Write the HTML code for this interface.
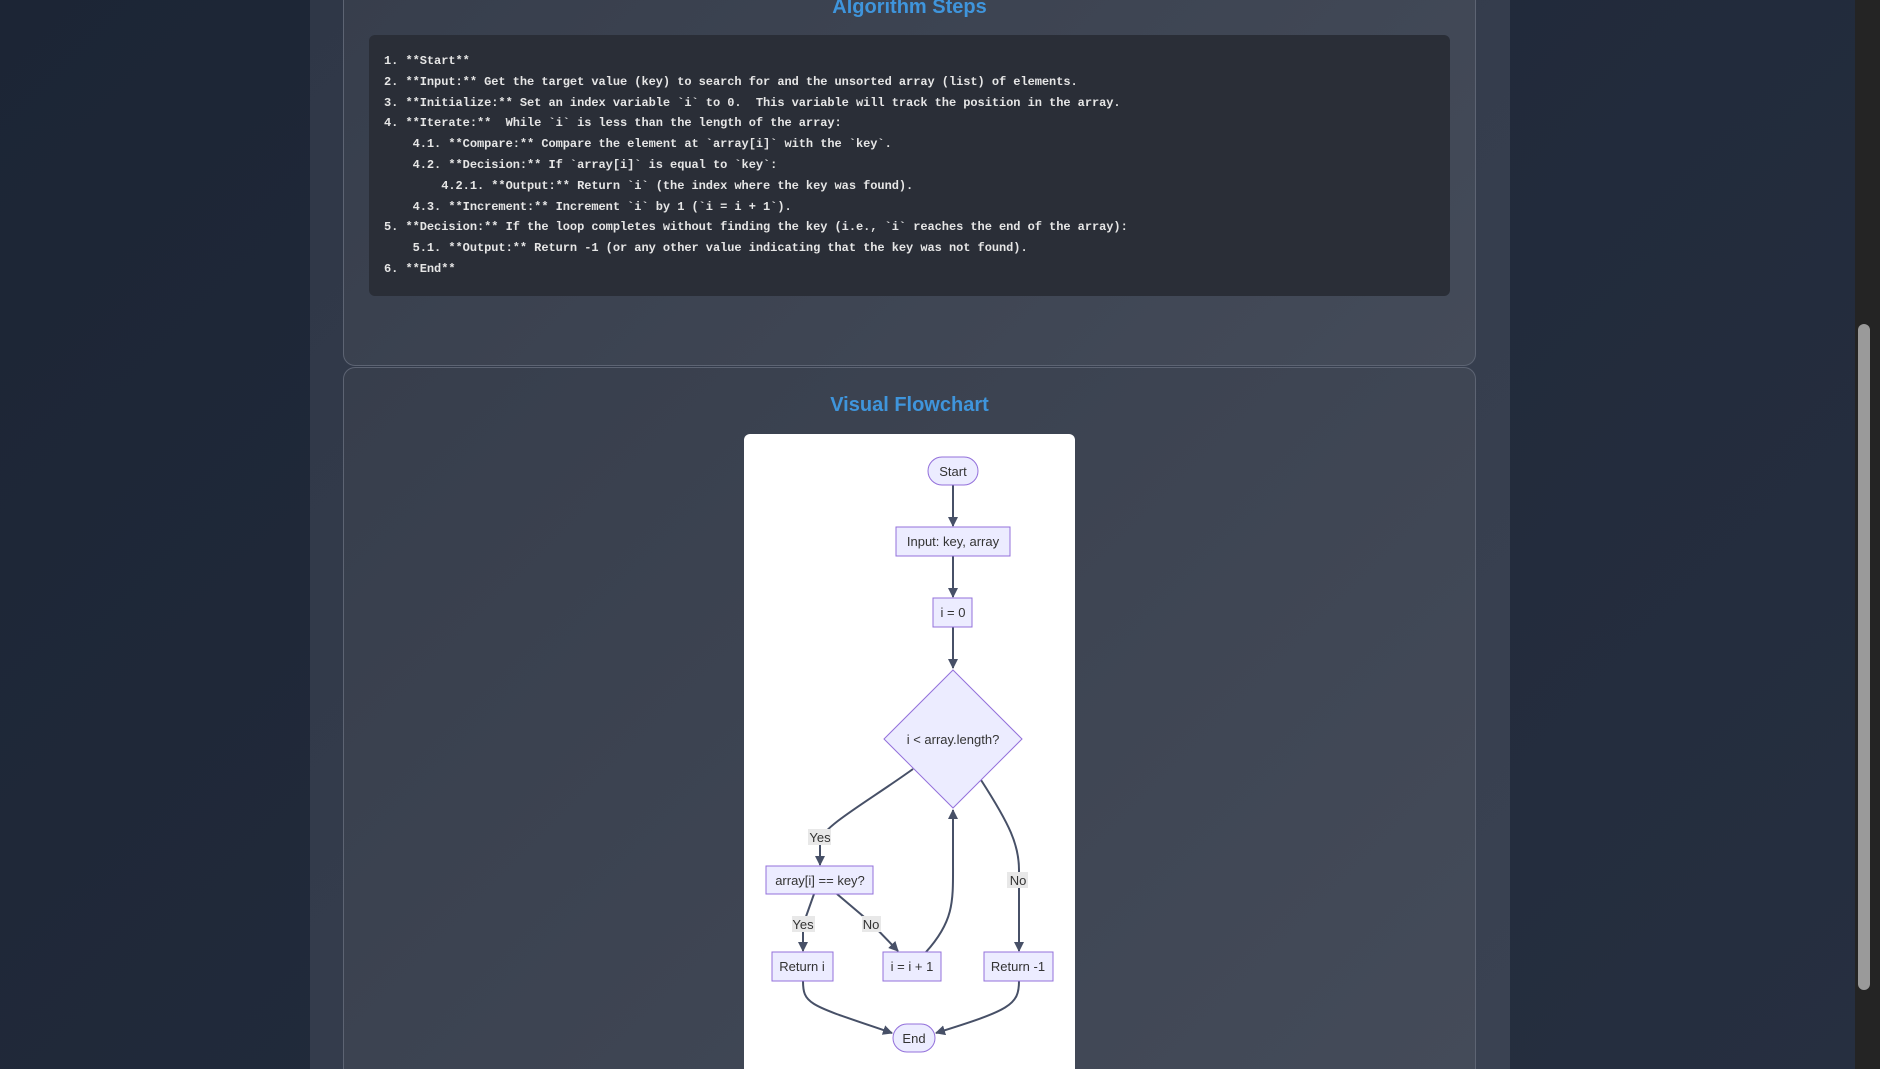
<!DOCTYPE html>
<html><head><meta charset="utf-8"><style>
html,body{margin:0;padding:0;width:1880px;height:1069px;overflow:hidden;background:linear-gradient(135deg,#1c2535,#262f40);font-family:"Liberation Sans",sans-serif;position:relative;}
.panel{position:absolute;left:310px;top:0;width:1200px;height:1069px;background:linear-gradient(135deg,#2f3747,#3a4252);}
.card{position:absolute;left:343px;width:1133px;background:linear-gradient(135deg,#373e4c,#444b59);border:1px solid #5d6473;border-radius:12px;box-sizing:border-box;}
h2{position:absolute;left:343px;width:1133px;margin:0;text-align:center;color:#3f95dc;font-size:20px;font-weight:bold;}
.code{position:absolute;left:369px;top:35px;width:1081px;height:261px;background:#2a2e37;border-radius:6px;}
pre{margin:0;position:absolute;left:384px;top:51px;font-family:"Liberation Mono",monospace;font-size:12px;font-weight:bold;line-height:20.8px;color:#e6e6e6;letter-spacing:-0.05px;}
.sb{position:absolute;left:1855px;top:0;width:25px;height:1069px;background:#242424;}
.thumb{position:absolute;left:1858px;top:324px;width:12px;height:666px;background:#9a9a9a;border-radius:6px;}
.white{position:absolute;left:744px;top:434px;width:331px;height:635px;background:#fff;border-radius:6px 6px 0 0;}
</style></head><body>
<div class="panel"></div>
<div class="card" style="top:-20px;height:386px;"></div>
<div class="card" style="top:367px;height:702px;border-bottom:none;border-radius:12px 12px 0 0;"></div>
<h2 style="top:-4px;">Algorithm Steps</h2>
<div class="code"></div>
<pre>1. **Start**
2. **Input:** Get the target value (key) to search for and the unsorted array (list) of elements.
3. **Initialize:** Set an index variable `i` to 0.  This variable will track the position in the array.
4. **Iterate:**  While `i` is less than the length of the array:
    4.1. **Compare:** Compare the element at `array[i]` with the `key`.
    4.2. **Decision:** If `array[i]` is equal to `key`:
        4.2.1. **Output:** Return `i` (the index where the key was found).
    4.3. **Increment:** Increment `i` by 1 (`i = i + 1`).
5. **Decision:** If the loop completes without finding the key (i.e., `i` reaches the end of the array):
    5.1. **Output:** Return -1 (or any other value indicating that the key was not found).
6. **End**</pre>
<h2 style="top:394px;">Visual Flowchart</h2>
<div class="white"></div>
<svg style="position:absolute;left:0;top:0" width="1880" height="1069" font-family="Liberation Sans, sans-serif" font-size="13" fill="#333">
<defs><marker id="a" markerWidth="10" markerHeight="10" refX="9" refY="5" orient="auto" markerUnits="userSpaceOnUse"><path d="M0,0 L10,5 L0,10 z" fill="#475067"/></marker></defs>
<g stroke="#475067" stroke-width="2" fill="none" marker-end="url(#a)">
<path d="M953,485 L953,526"/>
<path d="M953,556 L953,597"/>
<path d="M953,627 L953,668"/>
<path d="M913,769 C870,800 825,825 820,840 L820,865"/>
<path d="M814,894 L803,925 L803,951"/>
<path d="M837,894 L870,922 L898,951"/>
<path d="M926,952 C955,920 953,900 953,860 L953,810"/>
<path d="M981,780 C1010,825 1019,845 1019,870 L1019,951"/>
<path d="M803,981 C803,1005 810,1005 892,1033"/>
<path d="M1019,981 C1019,1005 1010,1010 936,1033"/>
</g>
<g fill="#ececff" stroke="#9370db" stroke-width="1">
<rect x="928" y="457" width="50" height="28" rx="14"/>
<rect x="896" y="527" width="114" height="29"/>
<rect x="933" y="598" width="39" height="29"/>
<polygon points="953,670 1022,739 953,808 884,739"/>
<rect x="766" y="866" width="107" height="28"/>
<rect x="772" y="952" width="61" height="29"/>
<rect x="883" y="952" width="58" height="29"/>
<rect x="984" y="952" width="69" height="29"/>
<rect x="893" y="1024" width="42" height="28" rx="14"/>
</g>
<g fill="#e8e8e8"><rect x="808" y="829" width="23" height="16"/><rect x="1007" y="872" width="21" height="16"/><rect x="792" y="916" width="23" height="16"/><rect x="862" y="916" width="19" height="16"/></g>
<g text-anchor="middle">
<text x="953" y="476">Start</text>
<text x="953" y="546">Input: key, array</text>
<text x="953" y="617">i = 0</text>
<text x="953" y="744">i &lt; array.length?</text>
<text x="820" y="885">array[i] == key?</text>
<text x="802" y="971">Return i</text>
<text x="912" y="971">i = i + 1</text>
<text x="1018" y="971">Return -1</text>
<text x="914" y="1043">End</text>
<text x="820" y="842">Yes</text>
<text x="1018" y="885">No</text>
<text x="803" y="929">Yes</text>
<text x="871" y="929">No</text>
</g>
</svg>
<div class="sb"></div><div class="thumb"></div>
</body></html>
